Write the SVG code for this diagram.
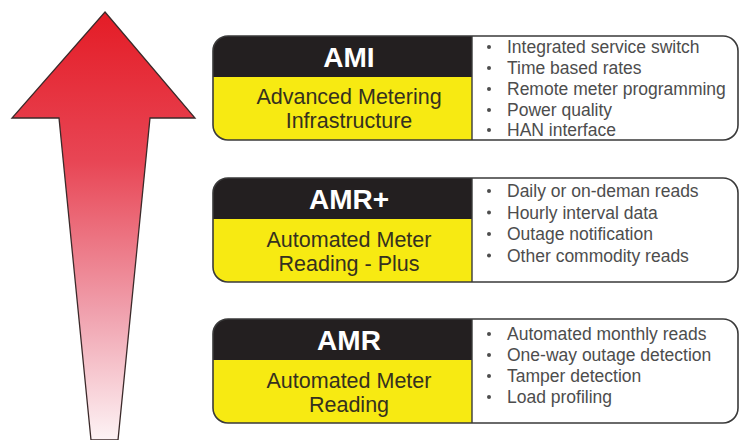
<svg xmlns="http://www.w3.org/2000/svg" width="740" height="440" viewBox="0 0 740 440">
  <defs>
    <linearGradient id="arrowGrad" x1="0" y1="0" x2="0" y2="1">
      <stop offset="0" stop-color="#e41c26"/>
      <stop offset="0.35" stop-color="#e84655"/>
      <stop offset="0.7" stop-color="#f0a0ad"/>
      <stop offset="1" stop-color="#fdf3f5"/>
    </linearGradient>
    <clipPath id="c1"><rect x="213" y="36" width="525" height="104" rx="15"/></clipPath>
    <clipPath id="c2"><rect x="213" y="178" width="525" height="104" rx="15"/></clipPath>
    <clipPath id="c3"><rect x="213" y="319" width="525" height="104" rx="15"/></clipPath>
  </defs>
  <style>
    .band { fill: #231f20; }
    .yel { fill: #f7ea12; }
    .wht { fill: #ffffff; }
    .outline { fill: none; stroke: #3a3a3a; stroke-width: 1.6; }
    .div { stroke: #3a3a3a; stroke-width: 1.4; }
    .title { font-family: "Liberation Sans", Arial, sans-serif; font-weight: bold; font-size: 28px; fill: #ffffff; text-anchor: middle; }
    .sub { font-family: "Liberation Sans", Arial, sans-serif; font-size: 21.5px; fill: #35311f; text-anchor: middle; }
    .item { font-family: "Liberation Sans", Arial, sans-serif; font-size: 17.5px; fill: #4d4d4d; }
    .dot { fill: #4d4d4d; }
  </style>

  <g id="arrow">
    <polygon points="105,12 195,118 150,118 118,440 91,440 59,118 12,118" fill="url(#arrowGrad)" stroke="#3b2a2a" stroke-width="1.3" stroke-linejoin="miter"/>
  </g>

  <g id="ami">
    <g clip-path="url(#c1)">
      <rect class="wht" x="213" y="36" width="525" height="104"/>
      <rect class="band" x="213" y="36" width="259" height="41"/>
      <rect class="yel" x="213" y="77" width="259" height="63"/>
    </g>
    <line class="div" x1="472" y1="36" x2="472" y2="140"/>
    <rect class="outline" x="213" y="36" width="525" height="104" rx="15"/>
    <text class="title" x="349" y="67">AMI</text>
    <text class="sub" x="349" y="104">Advanced Metering</text>
    <text class="sub" x="349" y="128">Infrastructure</text>
    <circle class="dot" cx="489" cy="47" r="2"/>
    <circle class="dot" cx="489" cy="68" r="2"/>
    <circle class="dot" cx="489" cy="89" r="2"/>
    <circle class="dot" cx="489" cy="110" r="2"/>
    <circle class="dot" cx="489" cy="130" r="2"/>
    <text class="item" x="507" y="53">Integrated service switch</text>
    <text class="item" x="507" y="74">Time based rates</text>
    <text class="item" x="507" y="95">Remote meter programming</text>
    <text class="item" x="507" y="115.5">Power quality</text>
    <text class="item" x="507" y="136">HAN interface</text>
  </g>

  <g id="amrplus">
    <g clip-path="url(#c2)">
      <rect class="wht" x="213" y="178" width="525" height="104"/>
      <rect class="band" x="213" y="178" width="259" height="41"/>
      <rect class="yel" x="213" y="219" width="259" height="63"/>
    </g>
    <line class="div" x1="472" y1="178" x2="472" y2="282"/>
    <rect class="outline" x="213" y="178" width="525" height="104" rx="15"/>
    <text class="title" x="349" y="208.5">AMR+</text>
    <text class="sub" x="349" y="247">Automated Meter</text>
    <text class="sub" x="349" y="271">Reading - Plus</text>
    <circle class="dot" cx="489" cy="191" r="2"/>
    <circle class="dot" cx="489" cy="212.5" r="2"/>
    <circle class="dot" cx="489" cy="234" r="2"/>
    <circle class="dot" cx="489" cy="255.5" r="2"/>
    <text class="item" x="507" y="197">Daily or on-deman reads</text>
    <text class="item" x="507" y="218.5">Hourly interval data</text>
    <text class="item" x="507" y="240">Outage notification</text>
    <text class="item" x="507" y="261.5">Other commodity reads</text>
  </g>

  <g id="amr">
    <g clip-path="url(#c3)">
      <rect class="wht" x="213" y="319" width="525" height="104"/>
      <rect class="band" x="213" y="319" width="259" height="41"/>
      <rect class="yel" x="213" y="360" width="259" height="63"/>
    </g>
    <line class="div" x1="472" y1="319" x2="472" y2="423"/>
    <rect class="outline" x="213" y="319" width="525" height="104" rx="15"/>
    <text class="title" x="349" y="349.5">AMR</text>
    <text class="sub" x="349" y="388">Automated Meter</text>
    <text class="sub" x="349" y="412">Reading</text>
    <circle class="dot" cx="489" cy="334" r="2"/>
    <circle class="dot" cx="489" cy="355" r="2"/>
    <circle class="dot" cx="489" cy="376" r="2"/>
    <circle class="dot" cx="489" cy="397" r="2"/>
    <text class="item" x="507" y="340">Automated monthly reads</text>
    <text class="item" x="507" y="361">One-way outage detection</text>
    <text class="item" x="507" y="382">Tamper detection</text>
    <text class="item" x="507" y="403">Load profiling</text>
  </g>
</svg>
